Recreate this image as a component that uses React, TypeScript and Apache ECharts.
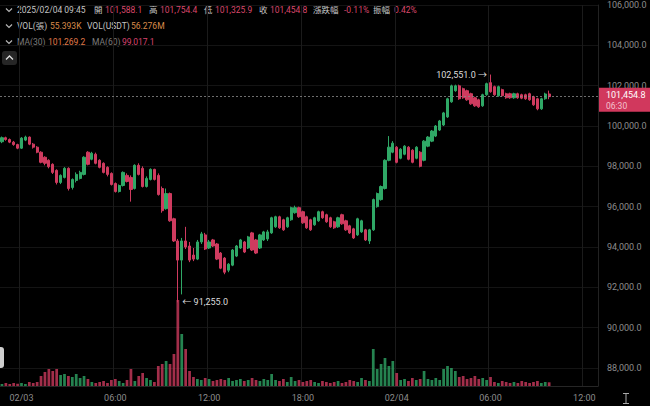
import React, { useEffect, useRef } from 'react';
import * as echarts from 'echarts';

// 15-minute slots, exchange local time (stored as "UTC" to avoid timezone shifts)
const SLOT_START = Date.UTC(2025, 1, 2, 22, 45);
const SLOT_MINUTES = 15;
const SLOT_COUNT = 153;

const opens = [
  99220, 99420, 99330, 99200, 99080, 98900, 99300, 99450, 99100, 98950,
  98700, 98450, 98300, 98100, 97800, 97200, 97450, 97900, 96950, 97300,
  97400, 97600, 98700, 98350, 98600, 98300, 98150, 97950, 97650, 97150,
  96750, 97050, 97550, 97450, 96900, 98050, 97900, 97000, 97350, 97850,
  97550, 96900, 95900, 96650, 95400, 94300, 93350, 94300, 94050, 93600,
  93400, 94250, 94600, 93950, 94350, 94150, 93700, 93450, 92850, 93100,
  93550, 93950, 94250, 93950, 94700, 94350, 93950, 94350, 94400, 94700,
  95000, 95500, 95350, 95000, 95350, 95700, 95950, 95750, 95500, 95350,
  95100, 95300, 95750, 95600, 95450, 95250, 95000, 95600, 95300, 95050,
  94900, 94600, 94750, 94850, 94300, 94850, 96000, 96350, 96900, 98300,
  98700, 98950, 98400, 98600, 98950, 98800, 98400, 98700, 98300, 99000,
  99250, 99500, 99800, 100050, 100450, 101200, 101750, 101990, 101850, 101750,
  101600, 101400, 101300, 101000, 101550, 102150, 101950, 101500, 101800, 101600,
  101600, 101400, 101600, 101550, 101550, 101600, 101450, 101350, 100850, 101350,
  101588.1,
];
const closes = [
  99420, 99330, 99200, 99080, 98900, 99400, 99450, 99100, 98950, 98700,
  98200, 98150, 97980, 97700, 97200, 97550, 97900, 96900, 97350, 97600,
  97700, 98450, 98100, 98650, 98150, 97950, 97700, 97600, 97100, 96750,
  97050, 97700, 97250, 96850, 98050, 97600, 97000, 97400, 97850, 97350,
  96600, 95800, 96650, 95300, 94300, 93350, 94300, 94000, 93350, 93400,
  94250, 94650, 93900, 94250, 94050, 93400, 92950, 92750, 93150, 93850,
  94050, 94350, 93750, 94500, 93850, 93700, 94600, 94750, 94750, 95450,
  95500, 94950, 94850, 95450, 95950, 95950, 95500, 95200, 94950, 94850,
  95450, 95750, 95450, 95250, 95000, 94950, 95450, 95150, 94850, 94700,
  94450, 95400, 95300, 94350, 94850, 96350, 96650, 97000, 98300, 98950,
  99150, 98200, 98850, 99000, 98350, 98200, 98950, 98000, 99250, 99450,
  99750, 100000, 100250, 100650, 101350, 101990, 101990, 101350, 101400, 101300,
  101100, 101000, 100950, 101550, 102100, 101700, 101550, 101950, 101500, 101400,
  101400, 101600, 101400, 101380, 101350, 101300, 101050, 100850, 101350, 101588.1,
  101454.8,
];
const lows = [
  99150, 99270, 99150, 99020, 98850, 98860, 99250, 99050, 98880, 98650,
  98150, 98050, 97900, 97620, 97100, 97120, 97400, 96800, 96850, 97200,
  97350, 97550, 98050, 98300, 98100, 97900, 97650, 97500, 97050, 96700,
  96700, 97000, 97200, 96250, 96850, 97550, 96950, 96950, 97300, 97300,
  96550, 95700, 95850, 95250, 94250, 91255, 91650, 93900, 93250, 93300,
  93350, 94150, 93850, 93900, 94000, 93350, 92900, 92650, 92750, 93050,
  93500, 93900, 93700, 93900, 93800, 93650, 93900, 94300, 94300, 94650,
  94950, 94900, 94800, 94950, 95300, 95650, 95450, 95150, 94900, 94800,
  95050, 95250, 95400, 95200, 94950, 94900, 94950, 95100, 94800, 94650,
  94400, 94550, 94700, 94300, 94150, 94800, 95950, 96300, 96850, 98250,
  98650, 98150, 98350, 98550, 98300, 98150, 98350, 97950, 98250, 98950,
  99200, 99450, 99750, 100000, 100400, 101150, 101700, 101300, 101350, 101250,
  101050, 100950, 100900, 100950, 101500, 101650, 101500, 101450, 101450, 101350,
  101350, 101350, 101350, 101330, 101300, 101250, 101000, 100780, 100800, 101300,
  101325.9,
];
const highs = [
  99480, 99470, 99380, 99260, 99120, 99450, 99520, 99480, 99160, 99000,
  98750, 98500, 98350, 98150, 97850, 97600, 97960, 97950, 97400, 97700,
  97780, 98500, 98750, 98720, 98680, 98350, 98200, 98000, 97700, 97200,
  97100, 97750, 97650, 97550, 98100, 98150, 98000, 97500, 97900, 97880,
  97650, 97000, 96900, 96700, 95450, 94400, 94450, 95000, 94250, 93950,
  94350, 94750, 94700, 94350, 94400, 94200, 93750, 93500, 93200, 93900,
  94100, 94400, 94300, 94550, 94750, 94400, 94650, 94800, 94850, 95500,
  95550, 95550, 95400, 95500, 96000, 96050, 96000, 95800, 95550, 95400,
  95500, 95800, 95800, 95650, 95500, 95300, 95500, 95650, 95350, 95100,
  94950, 95450, 95350, 94900, 94900, 96400, 96700, 97050, 98350, 99500,
  99250, 99000, 98900, 99050, 99000, 98850, 99000, 98750, 99300, 99500,
  99800, 100050, 100300, 100700, 101400, 102050, 102050, 102050, 101900, 101800,
  101650, 101450, 101350, 101600, 102150, 102551, 102000, 102000, 101850, 101650,
  101650, 101650, 101650, 101600, 101600, 101650, 101500, 101400, 101400, 101650,
  101754.4,
];
// volume in K contracts
const volumesK = [
  30, 45, 30, 45, 35, 45, 30, 60, 45, 60,
  150, 210, 255, 225, 255, 165, 180, 150, 135, 180,
  120, 150, 105, 60, 45, 60, 75, 45, 90, 105,
  75, 45, 90, 255, 75, 150, 195, 120, 90, 60,
  300, 330, 375, 330, 480, 1290, 780, 555, 225, 135,
  105, 90, 120, 105, 75, 90, 105, 90, 120, 75,
  90, 105, 75, 90, 120, 90, 75, 105, 90, 180,
  90, 75, 105, 60, 135, 75, 90, 60, 75, 90,
  60, 45, 75, 60, 45, 60, 75, 45, 60, 90,
  75, 60, 120, 90, 75, 555, 255, 330, 420, 300,
  375, 195, 90, 105, 75, 120, 90, 105, 225, 105,
  90, 120, 90, 255, 300, 270, 225, 135, 150, 105,
  120, 150, 105, 120, 90, 135, 60, 45, 75, 60,
  45, 60, 45, 75, 60, 45, 60, 75, 45, 60,
  55.393,
];

const PRICE_MIN = 88000;
const PRICE_MAX = 106000;
const PRICE_STEP = 2000;
const VOLUME_AXIS_MAX = 1500;

const HIGH_INDEX = 125;
const HIGH_VALUE = 102551;
const LOW_INDEX = 45;
const LOW_VALUE = 91255;
const LAST_PRICE = 101454.8;
const COUNTDOWN = '06:30';

const headerLine1: [number, string, string][] = [
  [17, '2025/02/04 09:45', 'g'],
  [94, '開', 'g'],
  [105, '101,588.1', 'r'],
  [149, '高', 'g'],
  [160, '101,754.4', 'r'],
  [204, '低', 'g'],
  [215, '101,325.9', 'r'],
  [259, '收', 'g'],
  [270, '101,454.8', 'r'],
  [313, '漲跌幅', 'g'],
  [344, '-0.11%', 'r'],
  [373, '振幅', 'g'],
  [394, '0.42%', 'r'],
];
const headerLine2: [number, string, string][] = [
  [17, 'VOL(張)', 'g'],
  [50, '55.393K', 'o'],
  [87, 'VOL(USDT)', 'g'],
  [131, '56.276M', 'o'],
];
const headerLine3: [number, string, string][] = [
  [17, 'MA(30)', 'd'],
  [48, '101,269.2', 'o2'],
  [92, 'MA(60)', 'd'],
  [122, '99,017.1', 'p'],
];

const UP = '#2fa866';
const DOWN = '#cf3b5f';
const FONT = 'Roboto, "Noto Sans CJK TC", "Noto Sans", sans-serif';
const TEXT_COLORS: Record<string, string> = {
  g: '#c4c4c4',
  r: '#d9476b',
  o: '#d98b4a',
  o2: '#e07a48',
  d: '#7c7c7c',
  p: '#d9436f',
};

const fmtPrice = (v: number) =>
  v.toLocaleString('en-US', { minimumFractionDigits: 1, maximumFractionDigits: 1 });

function buildSlots(): string[] {
  const out: string[] = [];
  for (let i = 0; i < SLOT_COUNT; i++) {
    const d = new Date(SLOT_START + i * SLOT_MINUTES * 60000);
    const p = (n: number) => String(n).padStart(2, '0');
    out.push(`${p(d.getUTCMonth() + 1)}/${p(d.getUTCDate())} ${p(d.getUTCHours())}:${p(d.getUTCMinutes())}`);
  }
  return out;
}

export default function App() {
  const ref = useRef<HTMLDivElement>(null);

  useEffect(() => {
    if (!ref.current) return;
    const chart = echarts.init(ref.current, undefined, { renderer: 'svg' });
    const slots = buildSlots();
    const isMajor = (_i: number, val: string) => {
      const hh = val.slice(6, 8);
      const mm = val.slice(9, 11);
      return mm === '00' && ['00', '06', '12', '18'].includes(hh);
    };
    const fmtSlot = (val: string) => (val.slice(6, 8) === '00' ? val.slice(0, 5) : val.slice(6));

    const candles = opens.map((o, i) => [o, closes[i], lows[i], highs[i]]);
    const vols = volumesK.map((v, i) => ({
      value: v,
      itemStyle: { color: closes[i] >= opens[i] ? UP : DOWN, opacity: 0.78 },
    }));

    const headerTexts: any[] = [];
    const addLine = (items: [number, string, string][], y: number) => {
      items.forEach(([x, t, c]) =>
        headerTexts.push({
          type: 'text',
          x,
          y,
          style: {
            text: t,
            fill: TEXT_COLORS[c],
            fontSize: 8.5,
            fontFamily: FONT,
            textVerticalAlign: 'middle',
            verticalAlign: 'middle',
          },
        })
      );
    };
    addLine(headerLine1, 10);
    addLine(headerLine2, 26);
    addLine(headerLine3, 42);

    const chevron = (y: number) => ({
      type: 'polyline',
      shape: { points: [[6, y - 1.5], [9, y + 1.5], [12, y - 1.5]] },
      style: { stroke: '#b5b5b5', lineWidth: 1.2, fill: null },
    });

    const option: any = {
      animation: false,
      backgroundColor: '#000',
      textStyle: { fontFamily: FONT },
      grid: [
        { left: 0, right: 52, top: 5, bottom: 38 },
        { left: 0, right: 52, top: 286, bottom: 20 },
      ],
      xAxis: [
        {
          type: 'category',
          gridIndex: 0,
          data: slots,
          boundaryGap: true,
          axisLine: { show: false },
          axisTick: { show: false },
          axisLabel: { show: false },
          splitLine: { show: true, interval: isMajor, lineStyle: { color: '#1b1b1b', width: 1 } },
        },
        {
          type: 'category',
          gridIndex: 1,
          data: slots,
          boundaryGap: true,
          axisLine: { show: true, lineStyle: { color: '#262626' } },
          axisTick: { show: false },
          axisLabel: {
            show: true,
            interval: isMajor,
            formatter: fmtSlot,
            color: '#8c8c8c',
            fontSize: 9,
            margin: 7,
            fontFamily: FONT,
          },
          splitLine: { show: true, interval: isMajor, lineStyle: { color: '#1b1b1b', width: 1 } },
        },
      ],
      yAxis: [
        {
          type: 'value',
          gridIndex: 0,
          position: 'right',
          min: PRICE_MIN,
          max: PRICE_MAX,
          interval: PRICE_STEP,
          axisLine: { show: true, lineStyle: { color: '#222' } },
          axisTick: { show: false },
          axisLabel: { color: '#8c8c8c', fontSize: 9, margin: 9, fontFamily: FONT, formatter: (v: number) => fmtPrice(v) },
          splitLine: { show: true, lineStyle: { color: '#141414' } },
        },
        {
          type: 'value',
          gridIndex: 1,
          position: 'right',
          min: 0,
          max: VOLUME_AXIS_MAX,
          axisLine: { show: true, lineStyle: { color: '#222' } },
          axisTick: { show: false },
          axisLabel: { show: false },
          splitLine: { show: false },
        },
      ],
      series: [
        {
          type: 'bar',
          name: 'VOL',
          xAxisIndex: 1,
          yAxisIndex: 1,
          barWidth: '70%',
          data: vols,
          z: 1,
        },
        {
          type: 'candlestick',
          name: 'K',
          xAxisIndex: 0,
          yAxisIndex: 0,
          barWidth: '70%',
          data: candles,
          z: 3,
          itemStyle: { color: UP, color0: DOWN, borderColor: UP, borderColor0: DOWN, borderWidth: 1 },
          markLine: {
            silent: true,
            symbol: ['none', 'none'],
            lineStyle: { color: '#8a8a8a', type: [2, 2], width: 0.8 },
            label: { show: false },
            data: [{ yAxis: LAST_PRICE }],
          },
          markPoint: {
            symbol: 'circle',
            symbolSize: 1,
            itemStyle: { color: 'rgba(0,0,0,0)' },
            data: [
              {
                coord: [slots[HIGH_INDEX], HIGH_VALUE],
                label: {
                  show: true,
                  position: 'left',
                  distance: 3,
                  formatter: `${fmtPrice(HIGH_VALUE)} →`,
                  color: '#dcdcdc',
                  fontSize: 9,
                  fontFamily: FONT,
                },
              },
              {
                coord: [slots[LOW_INDEX], LOW_VALUE],
                label: {
                  show: true,
                  position: 'right',
                  distance: 4,
                  formatter: `← ${fmtPrice(LOW_VALUE)}`,
                  color: '#dcdcdc',
                  fontSize: 9,
                  fontFamily: FONT,
                },
              },
            ],
          },
        },
        {
          type: 'custom',
          name: 'last',
          xAxisIndex: 0,
          yAxisIndex: 0,
          clip: false,
          silent: true,
          z: 10,
          data: [[opens.length - 1, LAST_PRICE]],
          renderItem: (params: any, api: any) => {
            const p = api.coord([api.value(0), api.value(1)]);
            const right = params.coordSys.x + params.coordSys.width;
            return {
              type: 'group',
              children: [
                {
                  type: 'rect',
                  shape: { x: right + 1, y: p[1] - 9, width: 52, height: 24 },
                  style: { fill: '#d1385d' },
                },
                {
                  type: 'text',
                  style: {
                    text: fmtPrice(api.value(1)),
                    x: right + 8,
                    y: p[1] - 1.5,
                    fill: '#ffffff',
                    fontSize: 9,
                    fontFamily: FONT,
                    textVerticalAlign: 'middle',
                    verticalAlign: 'middle',
                  },
                },
                {
                  type: 'text',
                  style: {
                    text: COUNTDOWN,
                    x: right + 8,
                    y: p[1] + 9,
                    fill: '#f4c3cf',
                    fontSize: 8.5,
                    fontFamily: FONT,
                    textVerticalAlign: 'middle',
                    verticalAlign: 'middle',
                  },
                },
              ],
            };
          },
        },
      ],
      graphic: [
        chevron(10),
        chevron(26),
        chevron(42),
        { type: 'rect', shape: { x: 2, y: 51, width: 15, height: 14, r: 3 }, style: { fill: '#262626' } },
        {
          type: 'polyline',
          shape: { points: [[6, 59.5], [9.5, 56], [13, 59.5]] },
          style: { stroke: '#e0e0e0', lineWidth: 1.3, fill: null },
        },
        ...headerTexts,
        { type: 'rect', shape: { x: -8, y: 347, width: 12, height: 21, r: 3 }, style: { fill: '#cfcfcf' } },
        { type: 'line', shape: { x1: 626, y1: 393.5, x2: 626, y2: 403.5 }, style: { stroke: '#a8a8a8', lineWidth: 1 } },
        { type: 'line', shape: { x1: 623, y1: 393.5, x2: 629, y2: 393.5 }, style: { stroke: '#a8a8a8', lineWidth: 1 } },
        { type: 'line', shape: { x1: 623, y1: 403.5, x2: 629, y2: 403.5 }, style: { stroke: '#a8a8a8', lineWidth: 1 } },
      ],
    };
    chart.setOption(option);
    return () => chart.dispose();
  }, []);

  return (
    <div
      ref={ref}
      style={{ position: 'fixed', left: 0, top: 0, width: 650, height: 406, background: '#000' }}
    />
  );
}
